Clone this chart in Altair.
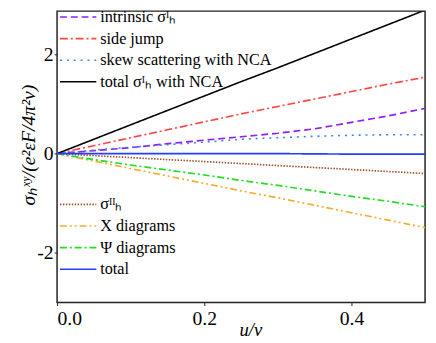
import altair as alt
import pandas as pd

u = [0.0, 0.05, 0.10, 0.15, 0.20, 0.25, 0.30, 0.35, 0.40, 0.45, 0.50]

# upper legend group
intrinsic = [0.0, 0.06, 0.12, 0.20, 0.27, 0.34, 0.41, 0.50, 0.63, 0.76, 0.91]
side_jump = [0.0, 0.16, 0.32, 0.48, 0.64, 0.80, 0.95, 1.10, 1.25, 1.40, 1.54]
skew_nca = [0.0, 0.07, 0.13, 0.18, 0.23, 0.29, 0.32, 0.35, 0.37, 0.38, 0.38]
total_I = [0.0, 0.29, 0.58, 0.87, 1.16, 1.45, 1.73, 2.02, 2.31, 2.60, 2.89]

# lower legend group
sigma_II = [0.0, -0.04, -0.08, -0.12, -0.16, -0.20, -0.24, -0.28, -0.32, -0.36, -0.40]
x_diag = [0.0, -0.15, -0.30, -0.45, -0.60, -0.75, -0.89, -1.04, -1.19, -1.34, -1.49]
psi_diag = [0.0, -0.12, -0.23, -0.33, -0.43, -0.54, -0.64, -0.75, -0.86, -0.96, -1.07]
total = [0.0, 0.0, 0.0, 0.0, 0.0, 0.0, 0.0, -0.005, -0.01, -0.01, -0.01]

names_a = ["intrinsic σᴵₕ", "side jump", "skew scattering with NCA", "total σᴵₕ with NCA"]
names_b = ["σᴵᴵₕ", "X diagrams", "Ψ diagrams", "total"]
series_a = [intrinsic, side_jump, skew_nca, total_I]
series_b = [sigma_II, x_diag, psi_diag, total]

colors_a = ["#8f1fff", "#ff4444", "#3d84e6", "#000000"]
dashes_a = [[7, 4], [8, 3, 2, 3], [2, 5], [1, 0]]
widths_a = [1.7, 1.6, 1.9, 1.3]

colors_b = ["#a0522d", "#f2ae2e", "#22dd22", "#2040ff"]
dashes_b = [[1.5, 1.5], [7, 3, 2, 3, 2, 3], [7, 3, 2, 3], [1, 0]]
widths_b = [1.7, 1.7, 1.7, 3.5]


def frame(names, series):
    rows = []
    for n, vals in zip(names, series):
        for x, y in zip(u, vals):
            rows.append({"u": x, "val": y, "series": n})
    return pd.DataFrame(rows)


FONT = "Liberation Serif, Times New Roman, serif"

x_enc = alt.X(
    "u:Q",
    scale=alt.Scale(domain=[0, 0.5], nice=False),
    axis=alt.Axis(
        values=[0, 0.2, 0.4], format=".1f", title="u/v", grid=False, domain=False,
        tickSize=3, tickColor="#222", labelFont=FONT, labelFontSize=20, labelColor="black",
        labelBaseline="alphabetic", labelPadding=19,
        titleFont=FONT, titleFontSize=19, titleFontStyle="italic", titleFontWeight="normal",
        titleColor="black", titleX=197, titleY=34, titleBaseline="alphabetic",
    ),
)
y_enc = alt.Y(
    "val:Q",
    scale=alt.Scale(domain=[-3.0, 2.87], nice=False),
    axis=alt.Axis(
        values=[-2, 0, 2], labelExpr="'' + datum.value", title="σₕˣʸ/(e²εF/4π²v)",
        grid=False, domain=False, tickSize=3, tickColor="#222",
        labelFont=FONT, labelFontSize=20, labelColor="black", labelPadding=1,
        titleFont=FONT, titleFontSize=20, titleFontStyle="italic", titleFontWeight="normal",
        titleColor="black", titleX=-29, titleY=136, titleBaseline="middle",
    ),
)


def legend(ly):
    return alt.Legend(
        orient="none", legendX=2, legendY=ly, title=None, symbolType="stroke",
        symbolSize=1369, labelFont=FONT, labelFontSize=16.5, labelColor="black",
        labelOffset=3, padding=0, rowPadding=0, clipHeight=22, symbolOffset=0,
        labelLimit=300,
    )


def layer(names, series, colors, dashes, widths, ly):
    lg = legend(ly)
    return alt.Chart(frame(names, series)).mark_line(clip=True, strokeCap="butt").encode(
        x=x_enc,
        y=y_enc,
        color=alt.Color("series:N", scale=alt.Scale(domain=names, range=colors), legend=lg),
        strokeDash=alt.StrokeDash("series:N", scale=alt.Scale(domain=names, range=dashes), legend=lg),
        strokeWidth=alt.StrokeWidth("series:N", scale=alt.Scale(domain=names, range=widths), legend=lg),
    )


chart = alt.layer(
    layer(names_a, series_a, colors_a, dashes_a, widths_a, -5),
    layer(names_b, series_b, colors_b, dashes_b, widths_b, 186),
).resolve_scale(
    color="independent", strokeDash="independent", strokeWidth="independent"
).properties(
    width=375, height=297,
    autosize=alt.AutoSizeParams(type="none"),
    padding={"left": 50, "top": 0, "right": 3, "bottom": 38},
).configure(
    font=FONT
).configure_view(
    stroke="#222", strokeWidth=1.5
)

chart.save("out.html", embed_options={"renderer": "svg", "actions": False})
